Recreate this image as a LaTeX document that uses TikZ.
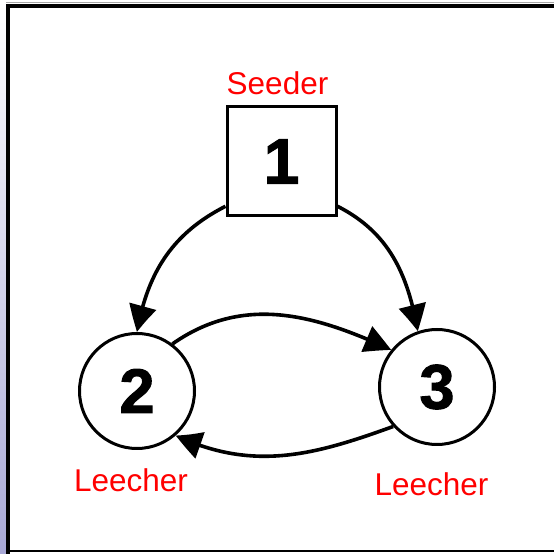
\documentclass[tikz,border=0pt]{standalone}
\usepackage{fontspec}
\setmainfont{Liberation Sans}
\newfontfamily\numfont[FakeBold=1.6]{Liberation Sans Bold}
\usetikzlibrary{arrows.meta,bending,calc}
\definecolor{lav}{RGB}{168,168,214}
\definecolor{lbl}{RGB}{255,0,0}
\begin{document}
\begin{tikzpicture}[x=1pt,y=1pt,
  peer/.style={draw=black,line width=3pt,circle,minimum size=115pt,inner sep=0pt,
    font=\numfont\fontsize{63}{63}\selectfont},
  seedbox/.style={draw=black,line width=3pt,rectangle,minimum size=109pt,inner sep=0pt,
    font=\numfont\fontsize{64}{64}\selectfont},
  role/.style={text=lbl,font=\fontsize{31.5}{32}\selectfont,inner sep=0pt,anchor=base},
  flow/.style={line width=3.6pt,-{Triangle[length=27pt,width=27pt,bend]}}]
\useasboundingbox (0,0) rectangle (554,554);
% frame
\shade[top color=white,bottom color=lav] (0,0) rectangle (6,554);
\draw[gray!70,line width=1pt] (6,551) -- (554,551);
\draw[black,line width=4pt] (8,0) -- (8,548) -- (554,548);
\draw[black,line width=2pt] (8,2.5) -- (554,2.5);
% nodes
\node[seedbox] (n1) at (281.5,392.5) {1};
\node[peer] (n2) at (137,163) {2};
\node[peer] (n3) at (437,167) {3};
\node[role] (s1) at (277.5,459) {Seeder};
\node[role] (l2) at (131,62) {Leecher};
\node[role] (l3) at (431.5,58) {Leecher};
% connectors
\coordinate (a1) at ($(n1.south west)!0.1!(n1.north west)$);
\coordinate (a2) at ($(n1.south east)!0.1!(n1.north east)$);
\draw[flow] (a1) to[out=207,in=80] (n2.north);
\draw[flow] (a2) to[out=-27,in=100] (n3.109);
\draw[flow] (n2.53) to[out=35,in=155] (n3.141);
\draw[flow] (n3.222) to[out=200,in=-25] (n2.-49);
\end{tikzpicture}
\end{document}
